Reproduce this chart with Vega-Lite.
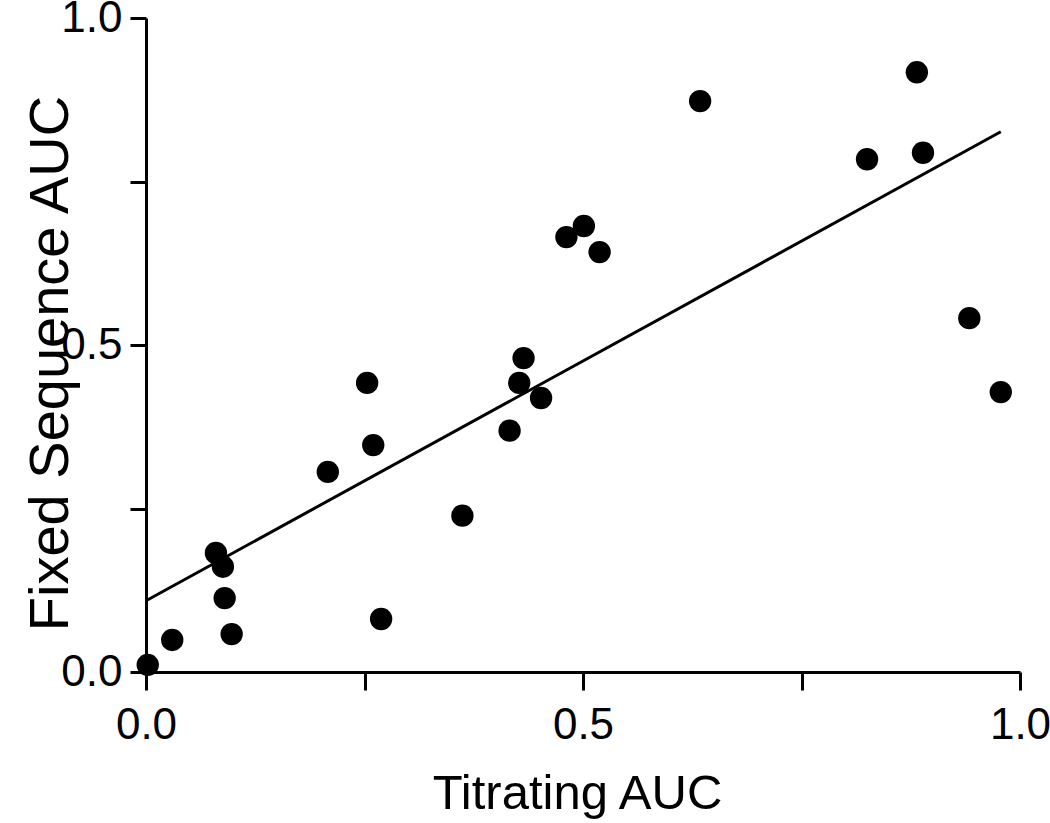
{
  "$schema": "https://vega.github.io/schema/vega-lite/v6.json",
  "width": 874,
  "height": 654,
  "autosize": "none",
  "padding": {"left": 146, "top": 18, "right": 30, "bottom": 151},
  "background": "white",
  "config": {
    "view": {"stroke": null},
    "axis": {
      "grid": false,
      "domainColor": "black",
      "domainWidth": 3,
      "tickColor": "black",
      "tickWidth": 3,
      "labelColor": "black",
      "titleColor": "black",
      "labelFont": "Liberation Sans",
      "labelFontSize": 45,
      "titleFontWeight": "normal",
      "titleFont": "Liberation Sans"
    }
  },
  "datasets": {
    "points": [
      {"titrating": 0.002, "fixed": 0.011},
      {"titrating": 0.030, "fixed": 0.049},
      {"titrating": 0.080, "fixed": 0.182},
      {"titrating": 0.088, "fixed": 0.161},
      {"titrating": 0.090, "fixed": 0.113},
      {"titrating": 0.098, "fixed": 0.058},
      {"titrating": 0.208, "fixed": 0.306},
      {"titrating": 0.253, "fixed": 0.442},
      {"titrating": 0.260, "fixed": 0.347},
      {"titrating": 0.269, "fixed": 0.081},
      {"titrating": 0.362, "fixed": 0.239},
      {"titrating": 0.416, "fixed": 0.369},
      {"titrating": 0.427, "fixed": 0.442},
      {"titrating": 0.432, "fixed": 0.480},
      {"titrating": 0.452, "fixed": 0.419},
      {"titrating": 0.481, "fixed": 0.665},
      {"titrating": 0.501, "fixed": 0.682},
      {"titrating": 0.519, "fixed": 0.642},
      {"titrating": 0.634, "fixed": 0.873},
      {"titrating": 0.825, "fixed": 0.784},
      {"titrating": 0.882, "fixed": 0.917},
      {"titrating": 0.889, "fixed": 0.794},
      {"titrating": 0.942, "fixed": 0.541},
      {"titrating": 0.978, "fixed": 0.428}
    ],
    "fit": [
      {"titrating": 0.0, "fixed": 0.109},
      {"titrating": 0.978, "fixed": 0.826}
    ]
  },
  "layer": [
    {
      "data": {"name": "fit"},
      "mark": {"type": "line", "color": "black", "strokeWidth": 3},
      "encoding": {
        "x": {"field": "titrating", "type": "quantitative",
          "scale": {"domain": [0, 1], "nice": false, "zero": false},
          "axis": {
            "title": "Titrating AUC",
            "values": [0, 0.25, 0.5, 0.75, 1],
            "labelExpr": "datum.value == 0.25 || datum.value == 0.75 ? '' : format(datum.value, '.1f')",
            "tickSize": 18,
            "labelPadding": 13,
            "labelFlush": false,
            "labelOverlap": false,
            "labelFontSize": 44,
            "titleFontSize": 49,
            "titleBaseline": "alphabetic",
            "titleAnchor": "start",
            "titleAlign": "center",
            "titleX": 431,
            "titleY": 136
          }
        },
        "y": {"field": "fixed", "type": "quantitative",
          "scale": {"domain": [0, 1], "nice": false, "zero": false},
          "axis": {
            "title": "Fixed Sequence AUC",
            "values": [0, 0.25, 0.5, 0.75, 1],
            "labelExpr": "datum.value == 0.25 || datum.value == 0.75 ? '' : format(datum.value, '.1f')",
            "tickSize": 16,
            "labelPadding": 8,
            "labelFlush": false,
            "labelOverlap": false,
            "labelFontSize": 44,
            "titleFontSize": 56,
            "titleAngle": 270,
            "titleBaseline": "alphabetic",
            "titleAlign": "center",
            "titleX": -79,
            "titleY": 345
          }
        }
      }
    },
    {
      "data": {"name": "points"},
      "mark": {"type": "point", "shape": "circle", "filled": true, "color": "black", "opacity": 1, "size": 500},
      "encoding": {
        "x": {"field": "titrating", "type": "quantitative"},
        "y": {"field": "fixed", "type": "quantitative"}
      }
    }
  ]
}
